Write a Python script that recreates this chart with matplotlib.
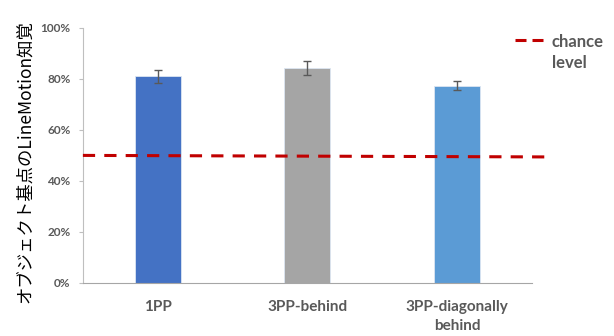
import matplotlib
matplotlib.use("Agg")
import matplotlib.pyplot as plt
from matplotlib.ticker import PercentFormatter

categories = ["1PP", "3PP-behind", "3PP-diagonally\nbehind"]
values = [0.81, 0.842, 0.774]
errors = [0.025, 0.028, 0.017]
colors = ["#4472C4", "#A5A5A5", "#5B9BD5"]
chance_start = 0.50
chance_end = 0.494
yticks = [0, 0.2, 0.4, 0.6, 0.8, 1.0]
ylabel = "オブジェクト基点のLineMotion知覚"
legend_lines = ["chance", "level"]

fig = plt.figure(figsize=(6.14, 3.36), dpi=100)
ax = fig.add_axes([0.135, 0.158, 0.731, 0.759])

x = list(range(len(categories)))
ax.bar(x, values, width=0.31, color=colors, edgecolor="#DCE6F2", linewidth=0.6, zorder=2)
ax.errorbar(x, values, yerr=errors, fmt="none", ecolor="#595959", elinewidth=1.0,
            capsize=3, capthick=1.0, zorder=3)

ax.plot([-0.5, 2.6], [chance_start, chance_end], color="#C00000", linestyle=(0, (4, 3)),
        linewidth=2.2, clip_on=False, zorder=4)

ax.set_xlim(-0.5, 2.5)
ax.set_ylim(0, 1.0)
ax.set_yticks(yticks)
ax.yaxis.set_major_formatter(PercentFormatter(1.0, decimals=0))
ax.set_xticks(x)
ax.set_xticklabels(categories, fontfamily="Lato", fontweight="bold", fontsize=11,
                   color="#595959", linespacing=1.45)
for lbl in ax.get_yticklabels():
    lbl.set_fontfamily("Lato")
    lbl.set_fontweight("bold")
    lbl.set_fontsize(8.5)
    lbl.set_color("#595959")

ax.tick_params(axis="x", length=0, pad=12)
ax.tick_params(axis="y", length=3, color="#BFBFBF", pad=6, direction="out")

for s in ["top", "right"]:
    ax.spines[s].set_visible(False)
ax.spines["left"].set_color("#BFBFBF")
ax.spines["bottom"].set_color("#A6A6A6")
ax.spines["left"].set_linewidth(0.8)
ax.spines["bottom"].set_linewidth(0.8)

fig.text(0.040, 0.52, ylabel, rotation=90, ha="center", va="center", fontsize=12.5,
         family=["Noto Sans CJK JP", "DejaVu Sans"], color="black")

# legend (two dashes)
for x0, x1 in [(515, 526), (532, 543)]:
    fig.lines.append(plt.Line2D([x0/614, x1/614], [1-40/336, 1-40/336], color="#C00000",
                                linewidth=2.2, solid_capstyle="butt",
                                transform=fig.transFigure))
fig.text(552/614, 1-42/336, legend_lines[0], ha="left", va="center", fontsize=12,
         fontfamily="Lato", fontweight="bold", color="#595959")
fig.text(552/614, 1-63/336, legend_lines[1], ha="left", va="center", fontsize=12,
         fontfamily="Lato", fontweight="bold", color="#595959")

fig.savefig("out.png", dpi=100)
